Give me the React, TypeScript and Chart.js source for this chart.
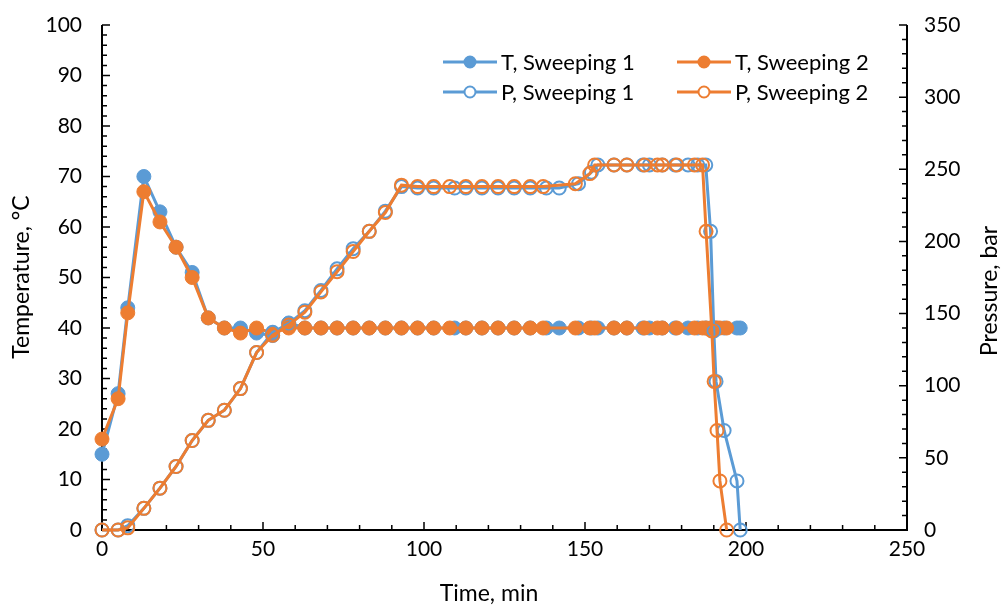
import { useEffect, useRef } from "react";
import { Chart, registerables } from "chart.js";

Chart.register(...registerables);

// ---- Data ----
const timeS1 = [0, 5, 8, 13, 18, 23, 28, 33, 38, 43, 48, 53, 58, 63, 68, 73, 78, 83, 88, 93, 98, 103, 109.5, 113, 118, 123, 128, 133, 138, 142, 148, 152, 154, 159, 163, 168, 170, 174, 178, 182, 185, 187.5, 189, 190, 190.7, 193.2, 197.2, 198.2];
const tempS1 = [15, 27, 44, 70, 63, 56, 51, 42, 40, 40, 39, 38.5, 41, 40, 40, 40, 40, 40, 40, 40, 40, 40, 40, 40, 40, 40, 40, 40, 40, 40, 40, 40, 40, 40, 40, 40, 40, 40, 40, 40, 40, 40, 40, 40, 40, 40, 40, 40];
const presS1 = [0, 0, 3, 15, 29, 44, 62, 76, 83, 98, 123, 137, 143, 152, 166, 181, 195, 207, 221, 238, 237, 237, 237, 237, 237, 237, 237, 237, 237, 237, 240, 248, 253, 253, 253, 253, 253, 253, 253, 253, 253, 253, 207, 138, 103, 69, 34, 0];

const timeS2 = [0, 5, 8, 13, 18, 23, 28, 33, 38, 43, 48, 53, 58, 63, 68, 73, 78, 83, 88, 93, 98, 103, 108, 113, 118, 123, 128, 133, 137, 147, 151.5, 153, 159, 163, 168.5, 172.5, 174, 178.5, 184, 186.5, 187.6, 189.4, 190.1, 191, 191.9, 194];
const tempS2 = [18, 26, 43, 67, 61, 56, 50, 42, 40, 39, 40, 39, 40, 40, 40, 40, 40, 40, 40, 40, 40, 40, 40, 40, 40, 40, 40, 40, 40, 40, 40, 40, 40, 40, 40, 40, 40, 40, 40, 40, 40, 40, 40, 40, 40, 40];
const presS2 = [0, 0, 1.5, 15, 29, 44, 62, 76, 83, 98, 123, 135, 142, 151, 165, 179, 193, 207, 220, 239, 238, 238, 238, 238, 238, 238, 238, 238, 238, 240, 247, 253, 253, 253, 253, 253, 253, 253, 253, 253, 207, 138, 103, 69, 34, 0];

const seriesLabels = ["T, Sweeping 1", "T, Sweeping 2", "P, Sweeping 1", "P, Sweeping 2"];
const xTitle = "Time, min";
const yTitle = "Temperature, °C";
const y2Title = "Pressure, bar";

const BLUE = "#5B9BD5";
const ORANGE = "#ED7D31";
const FONT = "Lato, 'Open Sans', sans-serif";

const pts = (xs: number[], ys: number[]) => xs.map((x, i) => ({ x, y: ys[i] }));

const axesPlugin = {
  id: "excelAxes",
  beforeDatasetsDraw(chart: any) {
    const { ctx, chartArea } = chart;
    const { left, right, top, bottom } = chartArea;
    const sx = chart.scales.x;
    const sy = chart.scales.y;
    const sy2 = chart.scales.y2;
    ctx.save();
    ctx.strokeStyle = "#000";
    ctx.lineWidth = 2;
    ctx.beginPath();
    ctx.moveTo(left, top);
    ctx.lineTo(left, bottom);
    ctx.lineTo(right, bottom);
    ctx.lineTo(right, top);
    ctx.stroke();
    ctx.lineWidth = 1.5;
    ctx.beginPath();
    for (let v = 0; v <= 250; v += 10) {
      const px = sx.getPixelForValue(v);
      const len = v % 50 === 0 ? 8 : 5;
      ctx.moveTo(px, bottom);
      ctx.lineTo(px, bottom - len);
    }
    for (let v = 0; v <= 100; v += 2) {
      const py = sy.getPixelForValue(v);
      const len = v % 10 === 0 ? 8 : 5;
      ctx.moveTo(left, py);
      ctx.lineTo(left + len, py);
    }
    for (let v = 0; v <= 350; v += 10) {
      const py = sy2.getPixelForValue(v);
      const len = v % 50 === 0 ? 8 : 5;
      ctx.moveTo(right, py);
      ctx.lineTo(right - len, py);
    }
    ctx.stroke();
    ctx.restore();
  },
  afterDraw(chart: any) {
    const { ctx, chartArea } = chart;
    ctx.save();
    // axis titles
    ctx.fillStyle = "#000";
    ctx.font = `23px ${FONT}`;
    ctx.textAlign = "center";
    ctx.textBaseline = "middle";
    ctx.fillText(xTitle, 489, 594);
    ctx.save();
    ctx.translate(22, 277);
    ctx.rotate(-Math.PI / 2);
    ctx.fillText(yTitle, 0, 0);
    ctx.restore();
    ctx.save();
    ctx.translate(990, 291);
    ctx.rotate(-Math.PI / 2);
    ctx.fillText(y2Title, 0, 0);
    ctx.restore();

    // legend
    const items = [
      { col: 0, row: 0, color: BLUE, filled: true },
      { col: 1, row: 0, color: ORANGE, filled: true },
      { col: 0, row: 1, color: BLUE, filled: false },
      { col: 1, row: 1, color: ORANGE, filled: false },
    ];
    const colX = [443, 677];
    const rowY = [62, 92];
    ctx.font = `22px ${FONT}`;
    ctx.textAlign = "left";
    items.forEach((it, i) => {
      const x0 = colX[it.col];
      const y = rowY[it.row];
      ctx.strokeStyle = it.color;
      ctx.lineWidth = 3;
      ctx.beginPath();
      ctx.moveTo(x0, y);
      ctx.lineTo(x0 + 54, y);
      ctx.stroke();
      ctx.beginPath();
      ctx.arc(x0 + 27, y, 5.5, 0, Math.PI * 2);
      ctx.fillStyle = it.filled ? it.color : "#fff";
      ctx.fill();
      ctx.lineWidth = 2;
      ctx.stroke();
      ctx.fillStyle = "#000";
      ctx.fillText(seriesLabels[i], x0 + 58, y + 1);
    });
    ctx.restore();
  },
};

export default function App() {
  const canvasRef = useRef<HTMLCanvasElement | null>(null);

  useEffect(() => {
    document.body.style.margin = "0";
    const canvas = canvasRef.current;
    if (!canvas) return;
    const tickFont = { family: FONT, size: 21 };
    const chart = new Chart(canvas, {
      type: "line",
      data: {
        datasets: [
          {
            label: seriesLabels[0],
            data: pts(timeS1, tempS1),
            yAxisID: "y",
            borderColor: BLUE,
            backgroundColor: BLUE,
            pointBackgroundColor: BLUE,
            pointBorderColor: BLUE,
            borderWidth: 3,
            pointRadius: 7,
            pointBorderWidth: 1,
            order: 3,
            clip: false,
          },
          {
            label: seriesLabels[1],
            data: pts(timeS2, tempS2),
            yAxisID: "y",
            borderColor: ORANGE,
            backgroundColor: ORANGE,
            pointBackgroundColor: ORANGE,
            pointBorderColor: ORANGE,
            borderWidth: 3,
            pointRadius: 7,
            pointBorderWidth: 1,
            order: 2,
            clip: false,
          },
          {
            label: seriesLabels[2],
            data: pts(timeS1, presS1),
            yAxisID: "y2",
            borderColor: BLUE,
            backgroundColor: "rgba(0,0,0,0)",
            pointBackgroundColor: "rgba(0,0,0,0)",
            pointBorderColor: BLUE,
            borderWidth: 3,
            pointRadius: 6.5,
            pointBorderWidth: 2,
            order: 1,
            clip: false,
          },
          {
            label: seriesLabels[3],
            data: pts(timeS2, presS2),
            yAxisID: "y2",
            borderColor: ORANGE,
            backgroundColor: "rgba(0,0,0,0)",
            pointBackgroundColor: "rgba(0,0,0,0)",
            pointBorderColor: ORANGE,
            borderWidth: 3,
            pointRadius: 6.5,
            pointBorderWidth: 2,
            order: 0,
            clip: false,
          },
        ],
      },
      options: {
        responsive: false,
        animation: false,
        layout: { padding: { top: 25, left: 0, right: 0, bottom: 0 } },
        plugins: { legend: { display: false }, tooltip: { enabled: false } },
        elements: { line: { tension: 0 } },
        scales: {
          x: {
            type: "linear",
            min: 0,
            max: 250,
            ticks: { stepSize: 50, font: tickFont, color: "#000", padding: 7 },
            grid: { display: false, drawTicks: false },
            border: { display: false },
            afterFit: (s: any) => {
              s.height = 77;
              s.paddingLeft = 0;
              s.paddingRight = 0;
            },
          },
          y: {
            position: "left",
            min: 0,
            max: 100,
            ticks: { stepSize: 10, font: tickFont, color: "#000", padding: 20 },
            grid: { display: false, drawTicks: false },
            border: { display: false },
            afterFit: (s: any) => {
              s.width = 102;
              s.paddingTop = 0;
              s.paddingBottom = 0;
            },
          },
          y2: {
            position: "right",
            min: 0,
            max: 350,
            ticks: { stepSize: 50, font: tickFont, color: "#000", padding: 17 },
            grid: { display: false, drawTicks: false },
            border: { display: false },
            afterFit: (s: any) => {
              s.width = 98;
              s.paddingTop = 0;
              s.paddingBottom = 0;
            },
          },
        },
      },
      plugins: [axesPlugin],
    } as any);
    return () => chart.destroy();
  }, []);

  return (
    <div style={{ width: 1005, height: 607, background: "#fff" }}>
      <canvas ref={canvasRef} width={1005} height={607} style={{ display: "block" }} />
    </div>
  );
}
